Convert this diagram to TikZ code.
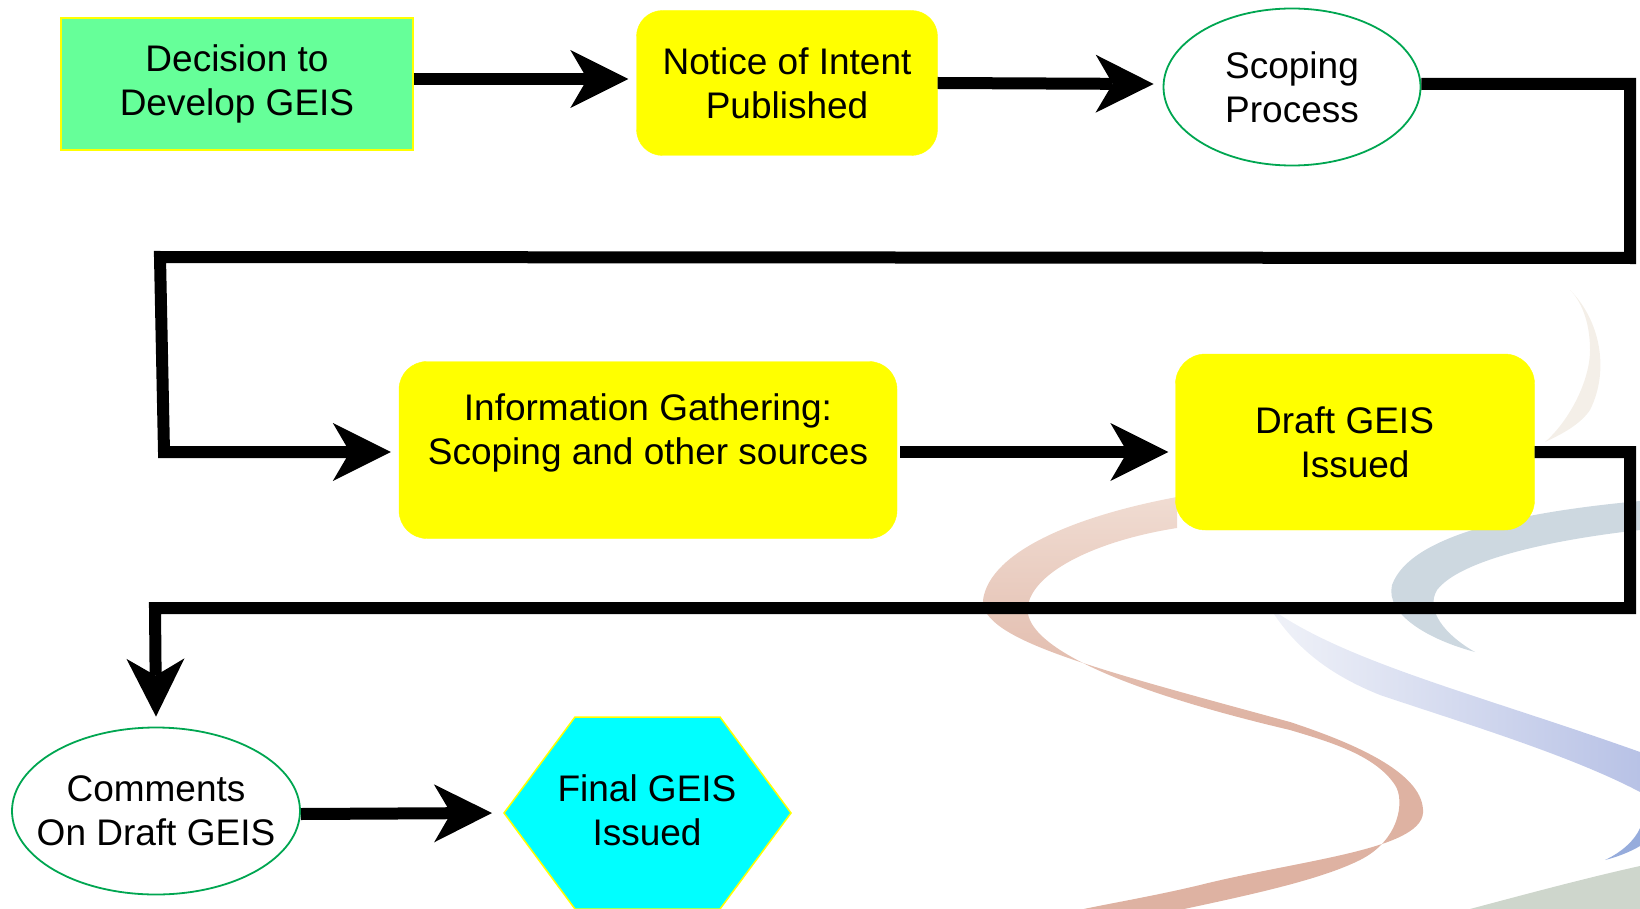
\documentclass[tikz,border=0pt]{standalone}
\usepackage{fontspec}
\setmainfont{Liberation Sans}
\usetikzlibrary{arrows.meta,shapes.geometric}
\definecolor{boxgreen}{RGB}{102,255,153}
\definecolor{yel}{RGB}{255,255,0}
\definecolor{cyn}{RGB}{0,255,255}
\definecolor{ellgreen}{RGB}{0,166,81}
\definecolor{redlight}{RGB}{240,220,210}
\definecolor{reddark}{RGB}{222,178,162}
\definecolor{bluelight}{RGB}{205,216,224}
\definecolor{purplefaint}{RGB}{240,242,248}
\definecolor{purpledark}{RGB}{184,194,230}
\definecolor{bluewedge}{RGB}{150,172,220}
\definecolor{greenband}{RGB}{206,214,204}
\definecolor{beigeband}{RGB}{244,239,232}
\tikzset{
  lbl/.style={font=\fontsize{37pt}{44pt}\selectfont, align=center, text=black},
  ybox/.style={lbl, fill=yel, draw=yel, inner sep=0pt},
  ell/.style={ellipse, draw=ellgreen, line width=1.8pt, fill=white, inner sep=0pt},
  conn/.style={line width=12pt, line join=miter, -{Stealth[length=58pt,width=58pt,inset=17pt,line width=0pt]}},
}
\begin{document}
\begin{tikzpicture}[x=1pt,y=-1pt]
\path[use as bounding box] (0,0) rectangle (1640,909);
% faint decorative ribbons
\fill[beigeband] (1570,290) .. controls (1600,320) and (1610,370) .. (1590,410)
  .. controls (1580,425) and (1560,435) .. (1545,442)
  .. controls (1570,420) and (1590,380) .. (1590,350)
  .. controls (1590,320) and (1580,300) .. (1570,290) -- cycle;
\shade[top color=redlight, bottom color=reddark] (1177,497) .. controls (1080,515) and (990,550) .. (983,600)
  .. controls (980,640) and (1100,670) .. (1290,722)
  -- (1290,730) .. controls (1120,690) and (1020,645) .. (1028,605)
  .. controls (1035,570) and (1100,540) .. (1177,528) -- cycle;
\fill[reddark] (1290,722) .. controls (1360,745) and (1425,775) .. (1423,813)
  .. controls (1420,850) and (1300,860) .. (1200,885)
  .. controls (1150,897) and (1100,905) .. (1070,912)
  -- (1170,912) .. controls (1250,895) and (1320,880) .. (1360,860)
  .. controls (1400,840) and (1405,800) .. (1395,785)
  .. controls (1375,755) and (1330,742) .. (1290,730) -- cycle;
\fill[bluelight] (1640,501) .. controls (1520,512) and (1410,535) .. (1392,585)
  .. controls (1385,615) and (1430,640) .. (1475,652)
  .. controls (1445,635) and (1425,610) .. (1437,590)
  .. controls (1460,560) and (1550,540) .. (1640,530) -- cycle;
\shade[left color=purplefaint, right color=purpledark] (1270,608) .. controls (1345,662) and (1480,695) .. (1640,752)
  -- (1640,792) .. controls (1570,755) and (1460,722) .. (1380,695)
  .. controls (1330,675) and (1295,648) .. (1270,608) -- cycle;
\fill[bluewedge] (1605,860) .. controls (1622,852) and (1635,840) .. (1640,828)
  -- (1640,846) .. controls (1630,852) and (1617,857) .. (1605,860) -- cycle;
\fill[greenband] (1470,909) .. controls (1530,893) and (1590,877) .. (1640,866) -- (1640,909) -- cycle;

% nodes
\node[lbl, fill=boxgreen, draw=yel, line width=1.5pt, minimum width=352pt, minimum height=132pt, inner sep=0pt]
  (decision) at (237,84) {Decision to\\Develop GEIS};
\node[ybox, rounded corners=26pt, minimum width=301pt, minimum height=145pt]
  (notice) at (787,83) {Notice of Intent\\Published};
\node[ell, minimum width=257pt, minimum height=157pt] (scoping) at (1292,87) {};
\node[lbl] (scopingtext) at (1292,87) {Scoping\\Process};
\node[ybox, rounded corners=28pt, minimum width=498pt, minimum height=177pt]
  (info) at (648,450) {};
\node[lbl] (infotext) at (648,433) {Information Gathering:\\Scoping and other sources};
\node[ybox, rounded corners=30pt, minimum width=359pt, minimum height=176pt]
  (draft) at (1355,442) {Draft GEIS\hspace*{21pt}\\Issued};
\node[ell, minimum width=288pt, minimum height=167pt] (comments) at (156,811) {};
\node[lbl] (commentstext) at (156,811) {Comments\\On Draft GEIS};
\fill[cyn, draw=yel, line width=1.5pt] (575,717) -- (720,717) -- (791,813) -- (720,909) -- (575,909) -- (504,813) -- cycle;
\node[lbl] (final) at (647,810) {Final GEIS\\Issued};
\coordinate (finalW) at (504,813);

% connectors
\draw[conn] ([yshift=5pt]decision.east) -- ([xshift=-8pt,yshift=4pt]notice.west);
\draw[conn] (notice.east) -- ([xshift=-9pt,yshift=3pt]scoping.west);
\draw[conn] ([yshift=3pt]scoping.east) -- (1630,84) -- (1630,258) -- (160,257) -- (164,452) -- ([xshift=-8pt,yshift=-2pt]info.west);
\draw[conn] ([xshift=3pt,yshift=-2pt]info.east) -- ([xshift=-7pt,yshift=-10pt]draft.west);
\draw[conn] ([yshift=-10pt]draft.east) -- (1630,452) -- (1630,608) -- (155,608) -- ([yshift=10pt]comments.north);
\draw[conn] ([yshift=-3pt]comments.east) -- ([xshift=-12pt]finalW);
\end{tikzpicture}
\end{document}
